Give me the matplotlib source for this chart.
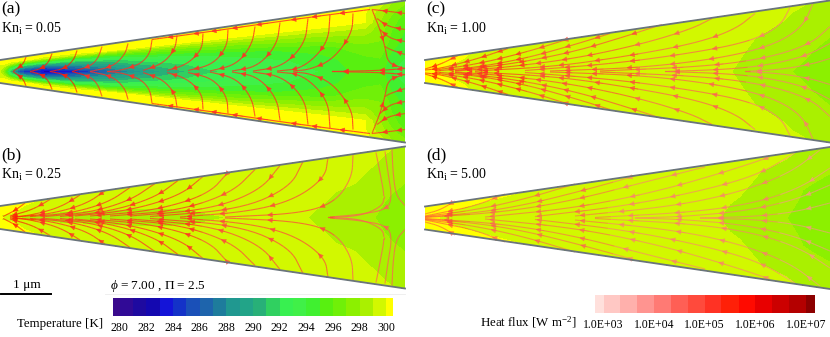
#TODO: Temperature contours and heat flux lines in a tapered channel, four Knudsen numbers

import numpy as np
import matplotlib.pyplot as plt
from matplotlib.collections import LineCollection
from matplotlib.colors import BoundaryNorm, ListedColormap
from matplotlib.cm import ScalarMappable
from matplotlib.lines import Line2D

plt.rcParams['font.family'] = ['Liberation Serif', 'DejaVu Serif']
plt.rcParams['mathtext.fontset'] = 'custom'
plt.rcParams['mathtext.rm'] = 'Liberation Serif'
plt.rcParams['mathtext.it'] = 'Liberation Serif:italic'

FIG_W = 830
FIG_H = 337

#NOTE: channel walls, picture pixels from the tip and from the centre line
wall_x = [0, 405]
wall_h = [11.5, 71]

#NOTE: colour bars
temp_edges = [279.5] + list(range(280, 301)) + [300.5]
temp_colors = ['#3a0a8c', '#300a96', '#1e0aa0', '#1408b0', '#1414d8', '#1432c8', '#1a50b8', '#1e64ac',
               '#1e7c9c', '#209890', '#22a488', '#28b078', '#30d060', '#38f050', '#40f048', '#40f030',
               '#58f010', '#70f008', '#8cf000', '#aaf000', '#d2f800', '#ffff00']
temp_ticks = [280, 282, 284, 286, 288, 290, 292, 294, 296, 298, 300]
flux_edges = [2.83, 3, 3.33, 3.67, 4, 4.33, 4.67, 5, 5.33, 5.67, 6, 6.33, 6.67, 7, 7.17]
flux_colors = ['#ffe0dc', '#ffc8c4', '#ffb0ac', '#ff9490', '#ff7a74', '#ff5f55', '#ff4a3c', '#ff3224',
               '#ff2008', '#ff0a00', '#e80000', '#cc0000', '#b40000', '#8c0000']
flux_ticks = [3, 4, 5, 6, 7]
flux_labels = ['1.0E+03', '1.0E+04', '1.0E+05', '1.0E+06', '1.0E+07']

#NOTE: (a) temperature, rows are fractions of the half height, columns are stations along the channel
a_x = [0, 4, 10, 20, 45, 75, 110, 150, 200, 260, 320, 365, 380, 392, 405]
a_eta = [0, 0.2, 0.4, 0.6, 0.75, 0.9, 1.0]
a_temp = [
    [299.0, 297.5, 291.0, 285.0, 282.5, 283.5, 286.5, 289.5, 291.5, 293.0, 294.0, 295.5, 295.5, 294.0, 293.5],
    [299.5, 298.0, 293.0, 288.0, 285.0, 287.0, 289.0, 291.0, 292.5, 293.5, 294.5, 295.8, 296.0, 294.5, 294.0],
    [299.8, 299.0, 296.0, 292.0, 290.0, 290.5, 291.5, 293.0, 294.0, 294.8, 295.5, 296.8, 296.8, 295.5, 294.5],
    [300.0, 300.0, 299.0, 297.0, 295.5, 295.0, 295.5, 296.5, 297.0, 297.5, 298.0, 298.3, 297.5, 296.0, 295.0],
    [300.2, 300.2, 300.2, 300.2, 299.8, 299.9, 300.0, 300.1, 300.1, 300.1, 300.1, 300.0, 298.0, 296.5, 295.5],
    [300.2, 300.2, 300.2, 300.2, 300.2, 300.2, 300.2, 300.2, 300.2, 300.2, 300.2, 300.1, 298.5, 297.5, 296.5],
    [300.2, 300.2, 300.2, 300.2, 300.2, 300.2, 300.2, 300.2, 300.2, 300.2, 300.2, 300.2, 299.5, 298.0, 297.5],
]

#NOTE: (b) temperature
b_x = [0, 12, 25, 60, 150, 190, 250, 305, 318, 335, 353, 375, 392, 405]
b_eta = [0, 0.2, 0.35, 0.55, 0.8, 1.0]
b_temp = [
    [300.2, 299.5, 298.7, 298.6, 298.6, 298.7, 299.2, 299.1, 298.6, 298.5, 298.3, 298.0, 297.7, 297.5],
    [300.0, 299.6, 299.3, 298.8, 298.8, 299.0, 299.3, 299.3, 299.1, 298.7, 298.5, 298.2, 297.8, 297.6],
    [300.2, 300.0, 299.5, 299.2, 299.2, 299.3, 299.5, 299.5, 299.3, 298.9, 298.7, 298.4, 298.0, 297.8],
    [300.2, 300.2, 299.8, 299.5, 299.5, 299.5, 299.6, 299.6, 299.5, 299.2, 299.05, 298.7, 298.3, 298.1],
    [300.2, 300.2, 300.0, 299.7, 299.6, 299.6, 299.7, 299.7, 299.6, 299.4, 299.3, 299.0, 298.6, 298.4],
    [300.2, 300.2, 300.1, 299.8, 299.7, 299.7, 299.7, 299.7, 299.7, 299.6, 299.5, 299.3, 299.0, 298.8],
]

#NOTE: (c) temperature
c_x = [0, 12, 30, 60, 150, 307, 330, 360, 367, 382, 405]
c_eta = [0, 0.3, 0.55, 0.8, 1.0]
c_temp = [
    [300.2, 300.0, 299.7, 299.6, 299.5, 299.0, 298.7, 298.2, 298.0, 297.8, 297.5],
    [300.2, 300.1, 299.8, 299.7, 299.6, 299.2, 298.8, 298.4, 298.3, 298.1, 297.7],
    [300.2, 300.2, 300.0, 299.7, 299.6, 299.4, 299.0, 298.7, 298.6, 298.4, 298.1],
    [300.2, 300.2, 300.1, 299.8, 299.7, 299.5, 299.3, 299.0, 298.9, 298.7, 298.3],
    [300.2, 300.2, 300.1, 299.9, 299.7, 299.6, 299.4, 299.2, 299.1, 299.0, 298.7],
]

#NOTE: (d) temperature
d_x = [0, 12, 30, 70, 150, 295, 315, 335, 362, 378, 405]
d_eta = [0, 0.25, 0.5, 0.75, 1.0]
d_temp = [
    [300.2, 300.0, 299.8, 299.6, 299.5, 299.0, 298.8, 298.5, 298.0, 297.8, 297.5],
    [300.2, 300.1, 299.9, 299.7, 299.6, 299.1, 298.9, 298.6, 298.2, 297.9, 297.7],
    [300.2, 300.2, 300.0, 299.8, 299.7, 299.4, 299.1, 298.8, 298.5, 298.05, 297.9],
    [300.2, 300.2, 300.1, 299.9, 299.7, 299.5, 299.3, 299.0, 298.8, 298.5, 298.1],
    [300.2, 300.2, 300.2, 300.1, 299.8, 299.6, 299.5, 299.3, 299.1, 298.9, 298.5],
]

#NOTE: heat flux lines, upper half only, each one runs in the direction of its arrows
a_lines = [
    [(26, 14.5), (23, 7), (13, 0)],
    [(52, 18), (49, 10), (42, 3), (30, 0)],
    [(77, 21), (74, 12), (65, 3), (50, 0)],
    [(102, 25), (98, 13), (90, 5), (72, 0)],
    [(128, 28), (125, 17), (113, 5), (90, 0)],
    [(152, 32), (150, 18), (140, 7), (120, 1), (107, 0)],
    [(177, 36), (175, 22), (163, 8), (143, 1)],
    [(203, 38), (202, 22), (187, 7), (167, 1)],
    [(228, 42), (227, 25), (213, 7), (188, 1)],
    [(255, 45), (252, 27), (237, 7), (210, 0.5)],
    [(280, 49), (277, 27), (258, 5), (232, 0.5)],
    [(308, 53), (305, 28), (283, 5), (253, 0.5)],
    [(330, 57), (328, 28), (303, 3), (277, 0.5)],
    [(353, 58), (352, 38), (333, 12), (310, 2), (293, 0.5)],
    [(370, 62), (300, 53), (200, 38.5), (152, 32)],
    [(372, 62), (380, 42), (385, 25), (388, 8), (405, 3)],
    [(405, 58), (390, 60), (372, 62)],
    [(405, 42), (388, 45), (377, 53)],
    [(405, 30), (390, 33), (380, 42)],
    [(405, 17), (390, 22), (385, 25)],
    [(405, 3), (380, 1), (332, 0)],
]
b_lines = [
    [(25, 14.5), (15, 7), (3, 1)],
    [(50, 18), (33, 8), (10, 1.5)],
    [(80, 22.5), (60, 10), (30, 2), (10, 0.5)],
    [(105, 26.5), (85, 13), (50, 3.5), (15, 0.5)],
    [(130, 30), (108, 15), (70, 4), (30, 1)],
    [(155, 34), (130, 17), (90, 5), (45, 1)],
    [(178, 37), (155, 20), (110, 6), (60, 1)],
    [(203, 41), (180, 22), (130, 7), (75, 1.5)],
    [(228, 45), (208, 23), (155, 7), (90, 1.5)],
    [(255, 48), (232, 25), (180, 7), (110, 1.5)],
    [(280, 52), (260, 27), (210, 8), (130, 1.5)],
    [(303, 56), (290, 30), (240, 8), (150, 1)],
    [(328, 60), (325, 40), (295, 18), (250, 6), (180, 0.5)],
    [(353, 63), (352, 40), (335, 15), (300, 4), (225, 0.5)],
    [(376, 65), (380, 45), (385, 18), (380, 10), (360, 1.5), (328, 0)],
    [(385, 66), (388, 45), (392, 20), (387, 8), (360, 3), (330, 0.5)],
    [(392, 68), (393, 45), (396, 22), (405, 12)],
]
c_lines = [
    [(33, 16), (15, 7), (0, 2.5)],
    [(83, 23), (50, 12), (15, 3), (0, 1.5)],
    [(145, 33), (100, 19), (50, 7), (10, 1.5)],
    [(185, 38), (150, 27), (100, 13), (50, 4), (10, 0.5)],
    [(237, 47), (200, 35), (150, 20), (90, 8), (30, 1)],
    [(287, 53), (265, 42), (215, 27), (150, 13), (80, 4), (30, 0.5)],
    [(330, 58), (310, 42), (270, 28), (200, 15), (130, 5), (50, 0.5)],
    [(365, 64), (355, 45), (325, 30), (270, 19), (190, 8), (100, 1)],
    [(388, 68), (378, 45), (350, 27), (300, 14), (220, 4), (125, 0.5)],
    [(405, 45), (385, 27), (340, 13), (280, 5), (175, 0.5)],
    [(405, 28), (380, 15), (340, 6), (300, 2), (240, 0)],
    [(405, 13), (385, 7), (355, 2), (320, 0)],
]
d_lines = [
    [(30, 17), (15, 8), (0, 4)],
    [(80, 24), (50, 12), (15, 5), (0, 2)],
    [(150, 34), (100, 19), (50, 8), (0, 1.5)],
    [(210, 42), (160, 28), (100, 13), (50, 5), (0, 1)],
    [(280, 51), (220, 36), (150, 18), (80, 6), (0, 0.5)],
    [(345, 61), (300, 46), (230, 26), (150, 10), (60, 1)],
    [(370, 65), (335, 44), (280, 28), (200, 12), (110, 1.5)],
    [(395, 68), (365, 45), (315, 26), (250, 12), (150, 2)],
    [(405, 50), (375, 30), (330, 15), (270, 6), (170, 0.5)],
    [(405, 33), (370, 18), (320, 7), (260, 1.5), (210, 0)],
    [(405, 15), (370, 6), (330, 1.5), (275, 0)],
]

#NOTE: heat flux (log10) along the channel, gives the colour of the lines
flux_x = [0, 100, 200, 300, 405]
a_flux = [5.5, 5.3, 5.2, 5.1, 5.0]
b_flux = [5.4, 5.2, 5.0, 4.8, 4.4]
c_flux = [5.4, 5.0, 4.7, 4.4, 4.1]
d_flux = [4.8, 4.5, 4.3, 4.1, 3.9]

#NOTE: stations where each panel carries its arrows
a_arrows = [18, 40, 62, 85, 107, 130, 150, 172, 195, 220, 243, 268, 292, 320, 345, 383, 397]
b_arrows = [13, 40, 70, 100, 130, 160, 190, 225, 270, 320, 385]
c_arrows = [8, 27, 42, 58, 75, 95, 118, 140, 170, 210, 250, 290, 335, 380]
d_arrows = [25, 67, 112, 157, 205, 252, 297, 340, 385]

panel_tags = ['(a)', '(b)', '(c)', '(d)']
panel_kn = ['0.05', '0.25', '1.00', '5.00']


def px_axes(fig, left, top, width, height):
    # INFO: axes placed by the pixels of the picture
    ax = fig.add_axes([left / FIG_W, 1 - (top + height) / FIG_H, width / FIG_W, height / FIG_H])
    return ax


def smooth(points, rounds=3):
    #NOTE: corner cutting, keeps both ends of the line
    p = np.array(points, dtype=float)
    for i in range(rounds):
        q = 0.75 * p[:-1] + 0.25 * p[1:]
        r = 0.25 * p[:-1] + 0.75 * p[1:]
        mid = np.empty((2 * len(q), 2))
        mid[0::2] = q
        mid[1::2] = r
        p = np.vstack([p[:1], mid, p[-1:]])
    return p


def draw_lines(ax, line, sign, flux, arrows, cmap, norm, alpha):
    p = smooth(line)
    p[:, 1] *= sign
    segs = np.stack([p[:-1], p[1:]], axis=1)
    value = np.interp(0.5 * (p[:-1, 0] + p[1:, 0]), flux_x, flux)
    lc = LineCollection(segs, array=value, cmap=cmap, norm=norm, linewidths=0.8, alpha=alpha, zorder=3)
    ax.add_collection(lc)
    for station in arrows:
        for i in range(len(p) - 1):
            if (p[i, 0] - station) * (p[i + 1, 0] - station) < 0:
                color = cmap(norm(value[i]))
                ax.annotate('', xy=(p[i + 1, 0], p[i + 1, 1]), xytext=(p[i, 0], p[i, 1]), zorder=4,
                            arrowprops=dict(arrowstyle='-|>', color=color, lw=0.4, shrinkA=0, shrinkB=0,
                                            mutation_scale=8, alpha=alpha))
                break


def draw_panel(fig, left, middle, x, eta, temp, lines, flux, arrows, alpha, tag, kn, temp_cmap, temp_norm, flux_cmap, flux_norm):
    # INFO: one channel, temperature field first, then walls, lines and labels
    ax = px_axes(fig, left, middle - 72, 405, 144)
    ax.set_xlim(0, 405)
    ax.set_ylim(-72, 72)
    ax.axis('off')

    temp = np.array(temp)
    eta = np.array(eta)
    full_eta = np.concatenate([-eta[:0:-1], eta])
    full_temp = np.vstack([temp[:0:-1], temp])
    h = np.interp(x, wall_x, wall_h)
    X, E = np.meshgrid(x, full_eta)
    Y = E * h
    ax.contourf(X, Y, full_temp, levels=temp_edges, cmap=temp_cmap, norm=temp_norm, extend='both', zorder=1)

    for line in lines:
        draw_lines(ax, line, 1, flux, arrows, flux_cmap, flux_norm, alpha)
        draw_lines(ax, line, -1, flux, arrows, flux_cmap, flux_norm, alpha)

    ax.plot(wall_x, wall_h, color='#6a747c', lw=1.3, zorder=5, clip_on=False)
    ax.plot(wall_x, [-v for v in wall_h], color='#6a747c', lw=1.3, zorder=5, clip_on=False)

    ax.text(1, 62.5, tag, fontsize=12.5, va='center', ha='left', zorder=6)
    ax.text(1, 43, 'Kn$_{\\mathrm{i}}$ = ' + kn, fontsize=10, va='center', ha='left', zorder=6)


def draw_bar(fig, left, top, width, height, edges, colors, ticks, labels, pad):
    ax = px_axes(fig, left, top, width, height)
    cmap = ListedColormap(colors)
    norm = BoundaryNorm(edges, cmap.N)
    bar = fig.colorbar(ScalarMappable(norm=norm, cmap=cmap), cax=ax, orientation='horizontal',
                       spacing='proportional', ticks=ticks, drawedges=False)
    bar.outline.set_visible(False)
    bar.ax.minorticks_off()
    bar.ax.tick_params(which='both', length=0, width=0, labelsize=8.5, pad=pad)
    bar.ax.set_xticklabels(labels)
    return cmap, norm


fig = plt.figure(figsize=(FIG_W / 100, FIG_H / 100), dpi=100)

temp_cmap, temp_norm = draw_bar(fig, 113, 297.5, 280, 18, temp_edges, temp_colors, temp_ticks,
                                [str(v) for v in temp_ticks], 4.5)
flux_cmap, flux_norm = draw_bar(fig, 595, 295, 219.5, 18, flux_edges, flux_colors, flux_ticks, flux_labels, 4)

draw_panel(fig, 0, 71.5, a_x, a_eta, a_temp, a_lines, a_flux, a_arrows, 0.85, panel_tags[0], panel_kn[0],
           temp_cmap, temp_norm, flux_cmap, flux_norm)
draw_panel(fig, 0, 217.5, b_x, b_eta, b_temp, b_lines, b_flux, b_arrows, 0.75, panel_tags[1], panel_kn[1],
           temp_cmap, temp_norm, flux_cmap, flux_norm)
draw_panel(fig, 425, 71.5, c_x, c_eta, c_temp, c_lines, c_flux, c_arrows, 0.7, panel_tags[2], panel_kn[2],
           temp_cmap, temp_norm, flux_cmap, flux_norm)
draw_panel(fig, 425, 218, d_x, d_eta, d_temp, d_lines, d_flux, d_arrows, 0.6, panel_tags[3], panel_kn[3],
           temp_cmap, temp_norm, flux_cmap, flux_norm)

#NOTE: scale bar and the texts around the colour bars
fig.add_artist(Line2D([1 / FIG_W, 51 / FIG_W], [1 - 294 / FIG_H, 1 - 294 / FIG_H], color='black', lw=1.4))
fig.add_artist(Line2D([105 / FIG_W, 405 / FIG_W], [1 - 294 / FIG_H, 1 - 294 / FIG_H], color='#ececec', lw=0.6))
fig.text(27 / FIG_W, 1 - 285 / FIG_H, '1 μm', fontsize=9.5, ha='center', va='center')
fig.text(110 / FIG_W, 1 - 286 / FIG_H, '$\\mathit{\u03d5}$ = 7.00 , \u03a0 = 2.5', fontsize=9.5, ha='left', va='center')
fig.text(103 / FIG_W, 1 - 324 / FIG_H, 'Temperature [K]', fontsize=9.3, ha='right', va='center')
fig.text(577 / FIG_W, 1 - 322 / FIG_H, 'Heat flux [W m$^{-2}$]', fontsize=9.3, ha='right', va='center')

fig.savefig('out.png', dpi=100)
